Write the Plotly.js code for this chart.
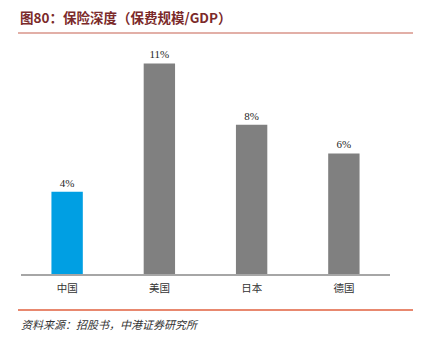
<!DOCTYPE html>
<html>
<head>
<meta charset="utf-8">
<script src="https://cdn.plot.ly/plotly-3.0.1.min.js"></script>
<style>html,body{margin:0;padding:0;background:#fff;}#chart{width:428px;height:348px;}</style>
</head>
<body>
<div id="chart"></div>
<script>
const categories = ["中国", "美国", "日本", "德国"];
const depthValues = [4.3, 11.0, 7.8, 6.3];
const valueLabels = ["4%", "11%", "8%", "6%"];
const barColors = ["#009fe3", "#808080", "#808080", "#808080"];
const chartTitle = "图80：保险深度（保费规模/GDP）";
const sourceNote = "资料来源：招股书，中港证券研究所";

const cjk = '"Noto Sans CJK SC", "Noto Sans", sans-serif';

const trace = {
  type: "bar",
  x: categories,
  y: depthValues,
  text: valueLabels,
  textposition: "outside",
  texttemplate: "%{text}",
  cliponaxis: false,
  textfont: {family: '"Liberation Serif", "Times New Roman", serif', size: 11, color: "#262626"},
  marker: {color: barColors, line: {width: 0}},
  hoverinfo: "skip"
};

const W = 428, H = 348;
const L = 21, R = 38, T = 50, B = 74;
const pw = W - L - R, ph = H - T - B;
const px = v => (v - L) / pw;
const py = v => (H - B - v) / ph;

const layout = {
  width: W, height: H,
  margin: {l: L, r: R, t: T, b: B},
  paper_bgcolor: "#fff",
  plot_bgcolor: "#fff",
  showlegend: false,
  bargap: 0.66,
  xaxis: {
    type: "category",
    showgrid: false,
    zeroline: false,
    showline: true,
    linecolor: "#a6a6a6",
    linewidth: 1.5,
    ticks: "",
    ticklabelstandoff: 4,
    tickfont: {family: cjk, size: 10.5, color: "#333"},
    fixedrange: true
  },
  yaxis: {
    range: [0, 11.7],
    visible: false,
    showgrid: false,
    zeroline: false,
    fixedrange: true
  },
  annotations: [
    {
      text: "<b>" + chartTitle + "</b>",
      xref: "paper", yref: "paper",
      x: px(18), y: py(17),
      xanchor: "left", yanchor: "middle",
      showarrow: false,
      font: {family: cjk, size: 13.5, color: "#7b2a2a"}
    },
    {
      text: "<i>" + sourceNote + "</i>",
      xref: "paper", yref: "paper",
      x: px(19), y: py(324),
      xanchor: "left", yanchor: "middle",
      showarrow: false,
      font: {family: cjk, size: 11, color: "#333"}
    }
  ],
  shapes: [
    {type: "line", xref: "paper", yref: "paper", x0: px(18), x1: px(413), y0: py(33), y1: py(33),
     line: {color: "#d9958a", width: 1.5}},
    {type: "line", xref: "paper", yref: "paper", x0: px(18), x1: px(413), y0: py(310), y1: py(310),
     line: {color: "#e0603f", width: 1.5}}
  ]
};

Plotly.newPlot("chart", [trace], layout, {displayModeBar: false, staticPlot: true});
</script>
</body>
</html>
